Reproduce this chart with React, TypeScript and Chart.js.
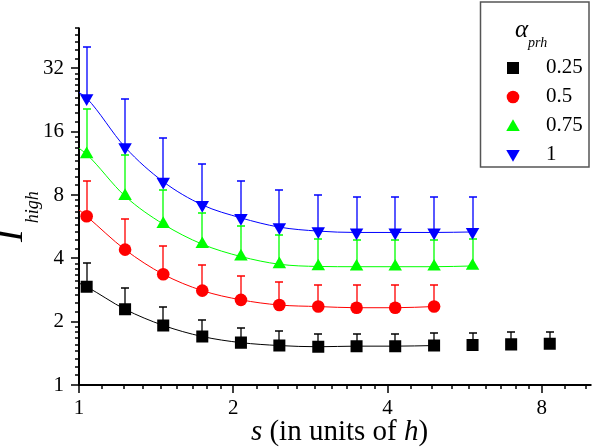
import React, { useEffect, useRef } from 'react';
import { Chart, registerables } from 'chart.js';
Chart.register(...registerables);

// s values (in units of h)
const sValues = [1.035, 1.23, 1.46, 1.74, 2.07, 2.46, 2.93, 3.48, 4.14, 4.93, 5.86, 6.97, 8.29];

// I_high values and upper error-bar ends per alpha_prh
const black = [2.93, 2.29, 1.92, 1.70, 1.59, 1.54, 1.52, 1.53, 1.53, 1.54, 1.55, 1.56, 1.57];
const blackErr = [3.79, 2.88, 2.35, 2.04, 1.87, 1.80, 1.75, 1.74, 1.74, 1.76, 1.77, 1.78, 1.79];
const red = [6.34, 4.40, 3.36, 2.81, 2.54, 2.40, 2.36, 2.33, 2.33, 2.36];
const redErr = [9.36, 6.12, 4.59, 3.72, 3.29, 3.09, 3.00, 2.98, 2.98, 2.99];
const green = [12.5, 7.9, 5.82, 4.67, 4.08, 3.75, 3.66, 3.65, 3.65, 3.65, 3.68];
const greenErr = [20.5, 12.35, 8.45, 6.55, 5.69, 5.17, 4.97, 4.87, 4.87, 4.87, 4.92];
const blue = [23.1, 13.5, 9.26, 7.18, 6.23, 5.63, 5.39, 5.31, 5.31, 5.31, 5.34];
const blueErr = [40.6, 22.8, 14.93, 11.2, 9.36, 8.45, 8.0, 7.81, 7.81, 7.8, 7.85];

// fit curves: value at s = 1 and number of points covered
const fitStart = [3.05, 6.8, 13.35, 24.6];
const fitCount = [10, 10, 11, 11];

const legendLabels = ['0.25', '0.5', '0.75', '1'];
const xMajor = [1, 2, 4, 8];
const yMajor = [1, 2, 4, 8, 16, 32];

const FONT = '"Liberation Serif", serif';

type Series = { label: string; color: string; vals: number[]; errs: number[]; style: string; radius: number; rotation: number; start: number; n: number };

const SERIES: Series[] = [
  { label: legendLabels[0], color: 'rgb(0,0,0)', vals: black, errs: blackErr, style: 'rect', radius: 8.5, rotation: 0, start: fitStart[0], n: fitCount[0] },
  { label: legendLabels[1], color: 'rgb(255,0,0)', vals: red, errs: redErr, style: 'circle', radius: 6.3, rotation: 0, start: fitStart[1], n: fitCount[1] },
  { label: legendLabels[2], color: 'rgb(0,255,0)', vals: green, errs: greenErr, style: 'triangle', radius: 7.8, rotation: 0, start: fitStart[2], n: fitCount[2] },
  { label: legendLabels[3], color: 'rgb(0,0,255)', vals: blue, errs: blueErr, style: 'triangle', radius: 7.8, rotation: 180, start: fitStart[3], n: fitCount[3] },
];

function minorValues(majors: number[], limit: number) {
  const out: number[] = [];
  majors.forEach((b) => {
    for (let i = 1; i <= 8; i++) {
      const v = b * (1 + i / 9);
      if (v < limit) out.push(v);
    }
  });
  return out;
}

function drawMarker(ctx: CanvasRenderingContext2D, style: string, x: number, y: number, r: number, rot: number, color: string) {
  ctx.fillStyle = color;
  ctx.beginPath();
  if (style === 'rect') {
    const h = Math.SQRT1_2 * r;
    ctx.rect(x - h, y - h, 2 * h, 2 * h);
  } else if (style === 'circle') {
    ctx.arc(x, y, r, 0, Math.PI * 2);
  } else {
    let a = (rot * Math.PI) / 180;
    ctx.moveTo(x + Math.sin(a) * r, y - Math.cos(a) * r);
    a += (2 * Math.PI) / 3;
    ctx.lineTo(x + Math.sin(a) * r, y - Math.cos(a) * r);
    a += (2 * Math.PI) / 3;
    ctx.lineTo(x + Math.sin(a) * r, y - Math.cos(a) * r);
    ctx.closePath();
  }
  ctx.fill();
}

const axesPlugin = {
  id: 'axesTicks',
  beforeDatasetsDraw(chart: any) {
    const { ctx, chartArea, scales } = chart;
    const x = scales.x, y = scales.y;
    ctx.save();
    ctx.globalAlpha = 1;
    ctx.setLineDash([]);
    ctx.strokeStyle = '#000';
    ctx.lineWidth = 2;
    ctx.beginPath();
    ctx.moveTo(chartArea.left, chartArea.top);
    ctx.lineTo(chartArea.left, chartArea.bottom + 1);
    ctx.moveTo(chartArea.left - 1, chartArea.bottom);
    ctx.lineTo(chartArea.right, chartArea.bottom);
    ctx.stroke();
    ctx.lineWidth = 1.5;
    ctx.beginPath();
    yMajor.forEach((v) => {
      const py = Math.round(y.getPixelForValue(v));
      ctx.moveTo(chartArea.left - 8, py);
      ctx.lineTo(chartArea.left, py);
    });
    minorValues(yMajor, 50).forEach((v) => {
      const py = Math.round(y.getPixelForValue(v));
      ctx.moveTo(chartArea.left - 4, py);
      ctx.lineTo(chartArea.left, py);
    });
    xMajor.forEach((v) => {
      const px = Math.round(x.getPixelForValue(v));
      ctx.moveTo(px, chartArea.bottom);
      ctx.lineTo(px, chartArea.bottom + 8);
    });
    minorValues(xMajor, 10).forEach((v) => {
      const px = Math.round(x.getPixelForValue(v));
      ctx.moveTo(px, chartArea.bottom);
      ctx.lineTo(px, chartArea.bottom + 4);
    });
    ctx.stroke();

    // error bars (upper)
    ctx.lineWidth = 1.3;
    SERIES.forEach((s) => {
      ctx.strokeStyle = s.color;
      ctx.beginPath();
      s.vals.forEach((v, i) => {
        const px = Math.round(x.getPixelForValue(sValues[i]));
        const p0 = y.getPixelForValue(v);
        const p1 = Math.round(y.getPixelForValue(s.errs[i]));
        ctx.moveTo(px, p0);
        ctx.lineTo(px, p1);
        ctx.moveTo(px - 4, p1);
        ctx.lineTo(px + 4, p1);
      });
      ctx.stroke();
    });
    ctx.restore();
  },
  afterDraw(chart: any) {
    const { ctx } = chart;
    ctx.save();
    ctx.fillStyle = '#000';
    // y title
    ctx.save();
    ctx.translate(22, 242);
    ctx.rotate(-Math.PI / 2);
    ctx.textBaseline = 'alphabetic';
    ctx.textAlign = 'left';
    ctx.font = `italic 38px ${FONT}`;
    ctx.fillText('I', 0, 0);
    const iw = ctx.measureText('I').width;
    ctx.font = `italic 18px ${FONT}`;
    ctx.fillText('high', iw + 6, 16);
    ctx.restore();

    // x title
    const parts: [string, boolean][] = [['s', true], [' (in units of ', false], ['h', true], [')', false]];
    const fs = 29;
    let total = 0;
    parts.forEach(([t, it]) => {
      ctx.font = `${it ? 'italic ' : ''}${fs}px ${FONT}`;
      total += ctx.measureText(t).width;
    });
    let cx = 339.5 - total / 2;
    ctx.textBaseline = 'alphabetic';
    ctx.textAlign = 'left';
    parts.forEach(([t, it]) => {
      ctx.font = `${it ? 'italic ' : ''}${fs}px ${FONT}`;
      ctx.fillText(t, cx, 440);
      cx += ctx.measureText(t).width;
    });

    // legend box
    ctx.fillStyle = '#fff';
    ctx.fillRect(480, 2, 109, 165);
    ctx.strokeStyle = '#555';
    ctx.lineWidth = 1.5;
    ctx.strokeRect(480.5, 2, 108.5, 165);
    ctx.fillStyle = '#000';
    ctx.font = `italic 25px ${FONT}`;
    ctx.fillText('\u03b1', 515, 37);
    ctx.font = `italic 14px ${FONT}`;
    ctx.fillText('prh', 528, 47);
    const ly = [68, 97, 126, 155];
    SERIES.forEach((s, i) => {
      const off = s.style === 'triangle' ? (s.rotation ? -1 : 1) : 0;
      drawMarker(ctx, s.style, 513, ly[i] + off, s.radius, s.rotation, s.color);
      ctx.fillStyle = '#000';
      ctx.font = `21px ${FONT}`;
      ctx.textBaseline = 'middle';
      ctx.fillText(s.label, 546, ly[i] - 1);
      ctx.textBaseline = 'alphabetic';
    });
    ctx.restore();
  },
};

export default function App() {
  const ref = useRef<HTMLCanvasElement>(null);
  useEffect(() => {
    document.body.style.margin = '0';
    const canvas = ref.current!;
    const markerSets = SERIES.map((s) => ({
      label: s.label,
      data: s.vals.map((v, i) => ({ x: sValues[i], y: v })),
      showLine: false,
      pointStyle: s.style,
      pointRadius: s.radius,
      pointHoverRadius: s.radius,
      pointRotation: s.rotation,
      pointBackgroundColor: s.color,
      pointBorderColor: s.color,
      pointBorderWidth: 0,
      borderColor: s.color,
      backgroundColor: s.color,
    }));
    const fitSets = SERIES.map((s) => ({
      label: s.label + ' fit',
      data: [{ x: 1, y: s.start }, ...s.vals.slice(0, s.n).map((v, i) => ({ x: sValues[i], y: v }))],
      borderColor: s.color,
      borderWidth: 1,
      pointRadius: 0,
      pointHoverRadius: 0,
      cubicInterpolationMode: 'monotone',
      fill: false,
    }));
    const chart = new Chart(canvas, {
      type: 'line',
      data: { datasets: [...markerSets, ...fitSets] as any },
      plugins: [axesPlugin as any],
      options: {
        animation: false,
        responsive: false,
        devicePixelRatio: 1,
        layout: { padding: 0 },
        plugins: { legend: { display: false }, tooltip: { enabled: false } },
        events: [],
        scales: {
          x: {
            type: 'logarithmic',
            min: 1,
            max: 10,
            grid: { display: false, drawTicks: false },
            border: { display: false },
            ticks: {
              font: { family: FONT, size: 21 },
              color: '#000',
              padding: 11,
              maxRotation: 0,
              autoSkip: false,
              callback: (v: any) => String(v),
            },
            afterBuildTicks: (sc: any) => {
              sc.ticks = xMajor.map((v) => ({ value: v }));
            },
            afterFit: (sc: any) => {
              sc.height = 62;
            },
          } as any,
          y: {
            type: 'logarithmic',
            min: 1,
            max: 50,
            grid: { display: false, drawTicks: false },
            border: { display: false },
            ticks: {
              font: { family: FONT, size: 21 },
              color: '#000',
              padding: 15,
              autoSkip: false,
              callback: (v: any) => String(v),
            },
            afterBuildTicks: (sc: any) => {
              sc.ticks = yMajor.map((v) => ({ value: v }));
            },
            afterFit: (sc: any) => {
              sc.width = 79;
            },
          } as any,
        },
      },
    });
    return () => chart.destroy();
  }, []);
  return (
    <div style={{ position: 'absolute', left: 0, top: 0, width: 600, height: 447 }}>
      <canvas ref={ref} width={600} height={447} style={{ width: 600, height: 447, display: 'block' }} />
    </div>
  );
}
